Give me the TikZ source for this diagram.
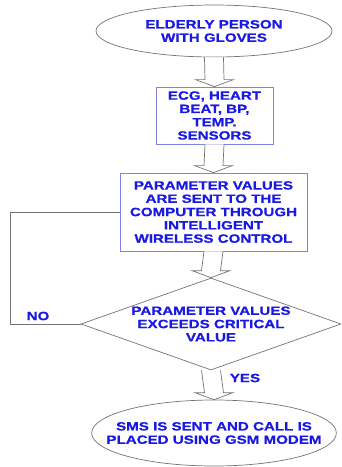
\documentclass[tikz,border=0pt]{standalone}
\usepackage{fontspec}
\usepackage{tikz}
\usetikzlibrary{shapes.geometric,calc}

\newfontfamily\flowfont[FakeStretch=1.26, BoldFeatures={FakeBold=0.6}]{Liberation Sans}
\definecolor{txtblue}{RGB}{25,25,225}
\definecolor{boxblue}{RGB}{130,130,225}
\definecolor{linegray}{RGB}{115,115,115}

\tikzset{
	txt/.style={font=\flowfont\bfseries\fontsize{12}{13.3}\selectfont, text=txtblue, align=center},
	oval/.style={txt, shape=ellipse, draw=linegray, line width=0.7pt, inner sep=0pt},
	sbox/.style={txt, shape=rectangle, draw=boxblue, line width=0.8pt, inner sep=0pt},
	decbox/.style={shape=diamond, draw=linegray, line width=0.7pt, inner sep=0pt},
	bigarrow/.style={draw=linegray, line width=0.7pt, fill=white},
	flowline/.style={draw=linegray, line width=0.8pt}
}

% hollow block arrow from the bottom of #1 to the top of #2
\newcommand{\blockarrow}[2]{%
	\draw[bigarrow] ($(#1.south)+(-9.5,0)$) -- ($(#2.north)+(-9.5,-7)$) -- ($(#2.north)+(-19,-7)$)
		-- (#2.north) -- ($(#2.north)+(19,-7)$) -- ($(#2.north)+(9.5,-7)$) -- ($(#1.south)+(9.5,0)$);}

\begin{document}
\begin{tikzpicture}[x=1pt, y=-1pt]
	\useasboundingbox (0,0) rectangle (341,467);

	\node[oval, minimum width=236pt, minimum height=52pt] (person) at (214,31) {ELDERLY PERSON\\WITH GLOVES};
	\node[sbox, minimum width=117pt, minimum height=57pt] (sensors) at (214.5,115.5) {ECG, HEART\\BEAT, BP,\\TEMP.\\SENSORS};
	\node[sbox, minimum width=187pt, minimum height=78pt] (sent) at (213.5,212) {PARAMETER VALUES\\ARE SENT TO THE\\COMPUTER THROUGH\\INTELLIGENT\\WIRELESS CONTROL};
	\node[decbox, minimum width=260pt, minimum height=92pt] (check) at (211,324) {};
	\node[txt] (checktext) at (check) {PARAMETER VALUES\\EXCEEDS CRITICAL\\VALUE};
	\node[oval, inner xsep=-21pt, minimum width=236pt, minimum height=66pt] (sms) at (214,433) {SMS IS SENT AND CALL IS\\PLACED USING GSM MODEM};

	\node[txt] (no) at (38,316) {NO};
	\node[txt] (yes) at (245,378) {YES};

	\coordinate (nocorner) at (10,212);

	\blockarrow{person}{sensors}
	\blockarrow{sensors}{sent}
	\blockarrow{sent}{check}
	\blockarrow{check}{sms}

	\path [flowline]
	(check.west) -| (nocorner) -- (sent.west);
\end{tikzpicture}
\end{document}
